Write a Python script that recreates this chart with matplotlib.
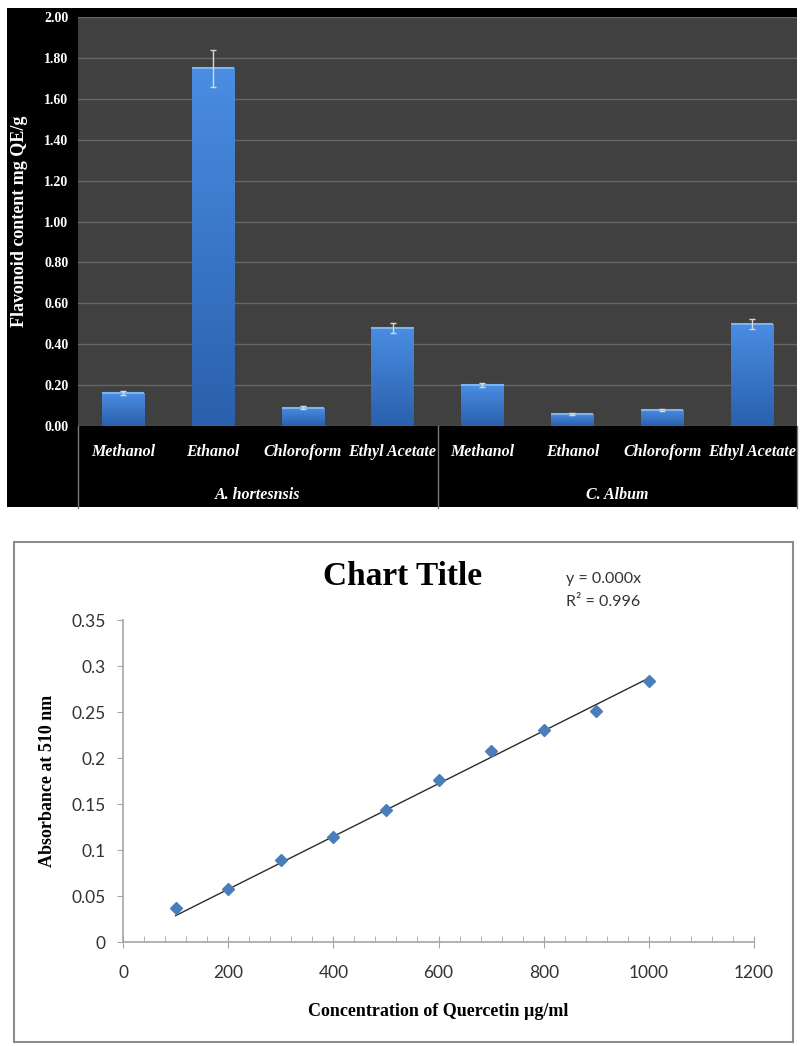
import numpy as np
import matplotlib
matplotlib.use("Agg")
import matplotlib.pyplot as plt
from matplotlib.patches import Rectangle
from matplotlib.colors import LinearSegmentedColormap
from matplotlib.ticker import MultipleLocator, FuncFormatter

# --- data: flavonoid content (top chart) ---
solvents = ["Methanol", "Ethanol", "Chloroform", "Ethyl Acetate",
            "Methanol", "Ethanol", "Chloroform", "Ethyl Acetate"]
groups = ["A. hortesnsis", "C. Album"]
flavonoid = [0.16, 1.75, 0.09, 0.48, 0.20, 0.06, 0.08, 0.50]
flavonoid_err = [0.01, 0.09, 0.006, 0.025, 0.01, 0.005, 0.005, 0.025]

# --- data: quercetin calibration curve (bottom chart) ---
conc = [100, 200, 300, 400, 500, 600, 700, 800, 900, 1000]
absorb = [0.037, 0.058, 0.089, 0.114, 0.144, 0.176, 0.208, 0.230, 0.251, 0.284]

SERIF = "Liberation Serif"
SANS = "Lato"

fig = plt.figure(figsize=(8.02, 10.46), dpi=100)
fig.patch.set_facecolor("white")

# black background of the top chart
fig.add_artist(Rectangle((0.0087, 0.5153), 0.9851, 0.4771,
                         transform=fig.transFigure, facecolor="black",
                         edgecolor="none", zorder=0))
# grey frame of the bottom chart
fig.add_artist(Rectangle((0.0175, 0.0038), 0.9713, 0.4780,
                         transform=fig.transFigure, facecolor="none",
                         edgecolor="#8c8c8c", lw=1.5, zorder=0))

# ================= top chart =================
ax1 = fig.add_axes([0.0973, 0.5927, 0.8965, 0.3910])
ax1.set_facecolor("#404040")
x = np.arange(len(flavonoid))
bars = ax1.bar(x, flavonoid, width=0.47, color="#3a7bd3", zorder=3)

# vertical gradient inside each bar
bar_cmap = LinearSegmentedColormap.from_list("barblue", ["#2a60ad", "#4a8de2"])
grad = np.linspace(1, 0, 256).reshape(-1, 1)
for b in bars:
    im = ax1.imshow(grad, cmap=bar_cmap, aspect="auto", zorder=3.1,
                    extent=(b.get_x(), b.get_x() + b.get_width(), 0, b.get_height()))
    im.set_clip_path(b)
ax1.hlines(flavonoid, x - 0.235, x + 0.235, color="#7db4f2", lw=1.5, zorder=3.2)

ax1.errorbar(x, flavonoid, yerr=flavonoid_err, fmt="none", ecolor="#d8d8d8",
             elinewidth=1, capsize=2.5, capthick=1, zorder=4)

ax1.set_xlim(-0.5, len(flavonoid) - 0.5)
ax1.set_ylim(0, 2.0)
ax1.yaxis.set_major_locator(MultipleLocator(0.2))
ax1.yaxis.set_major_formatter(FuncFormatter(lambda v, p: f"{v:.2f}"))
ax1.grid(axis="y", color="#666666", lw=1, zorder=1)
ax1.set_axisbelow(True)
for s in ax1.spines.values():
    s.set_visible(False)
ax1.tick_params(axis="y", length=0, pad=7, labelcolor="white")
for t in ax1.get_yticklabels():
    t.set_fontfamily(SERIF)
    t.set_fontweight("bold")
    t.set_fontsize(10)
ax1.set_xticks(x)
ax1.set_xticklabels([])
ax1.tick_params(axis="x", length=0)

for xi, name in zip(x, solvents):
    ax1.text(xi, -0.064, name, transform=ax1.get_xaxis_transform(),
             ha="center", va="center", color="white", fontfamily=SERIF,
             fontweight="bold", fontstyle="italic", fontsize=11.5)
for gi, g in enumerate(groups):
    ax1.text(gi * 4 + 1.5, -0.169, g, transform=ax1.get_xaxis_transform(),
             ha="center", va="center", color="white", fontfamily=SERIF,
             fontweight="bold", fontstyle="italic", fontsize=11.5)
for bx in [-0.5, 3.5, 7.5]:
    ax1.plot([bx, bx], [0, -0.2], transform=ax1.get_xaxis_transform(),
             color="#7a7a7a", lw=1, clip_on=False)

ax1.set_ylabel("Flavonoid content mg QE/g", color="white", fontfamily=SERIF,
               fontweight="bold", fontsize=13)
ax1.yaxis.label.set_va("center")
ax1.yaxis.set_label_coords(-0.082, 0.5)

# ================= bottom chart =================
ax2 = fig.add_axes([0.1534, 0.0994, 0.7868, 0.3078])
ax2.plot(conc, absorb, linestyle="none", marker="D", ms=6.5,
         color="#4a7ebb", zorder=3)

# linear trendline through the origin
cx = np.array(conc, dtype=float)
cy = np.array(absorb)
slope = (cx * cy).sum() / (cx * cx).sum()
fit_x = np.array([cx.min(), cx.max()])
ax2.plot(fit_x, slope * fit_x, color="#2b2b2b", lw=1, zorder=2)

ax2.set_xlim(0, 1200)
ax2.set_ylim(0, 0.35)
ax2.xaxis.set_major_locator(MultipleLocator(200))
ax2.xaxis.set_minor_locator(MultipleLocator(40))
ax2.yaxis.set_major_locator(MultipleLocator(0.05))
ax2.yaxis.set_major_formatter(FuncFormatter(lambda v, p: f"{round(v, 2):g}"))
for side in ["top", "right"]:
    ax2.spines[side].set_visible(False)
for side in ["left", "bottom"]:
    ax2.spines[side].set_color("#a6a6a6")
    ax2.spines[side].set_linewidth(1.2)
ax2.tick_params(axis="x", which="major", direction="inout", length=9,
                color="#a6a6a6", pad=12, labelsize=12.5, labelcolor="#333333")
ax2.tick_params(axis="x", which="minor", direction="in", length=4,
                color="#a6a6a6")
ax2.tick_params(axis="y", which="major", direction="out", length=4.5,
                color="#a6a6a6", pad=8, labelsize=12.5, labelcolor="#333333")
for t in ax2.get_xticklabels() + ax2.get_yticklabels():
    t.set_fontfamily(SANS)

ax2.set_xlabel("Concentration of Quercetin µg/ml", fontfamily=SERIF,
               fontweight="bold", fontsize=13)
ax2.xaxis.label.set_va("center")
ax2.xaxis.set_label_coords(0.5, -0.217)
ax2.set_ylabel("Absorbance at 510 nm", fontfamily=SERIF,
               fontweight="bold", fontsize=13)
ax2.yaxis.label.set_va("center")
ax2.yaxis.set_label_coords(-0.119, 0.5)

fig.text(0.5025, 0.4484, "Chart Title", ha="center", va="center",
         fontfamily=SERIF, fontweight="bold", fontsize=24)
fig.text(0.7057, 0.4465, "y = 0.000x", ha="left", va="center",
         fontfamily=SANS, fontsize=11.5, color="#333333")
fig.text(0.7057, 0.4245, "R² = 0.996", ha="left", va="center",
         fontfamily=SANS, fontsize=11.5, color="#333333")

fig.savefig("out.png", dpi=100)
